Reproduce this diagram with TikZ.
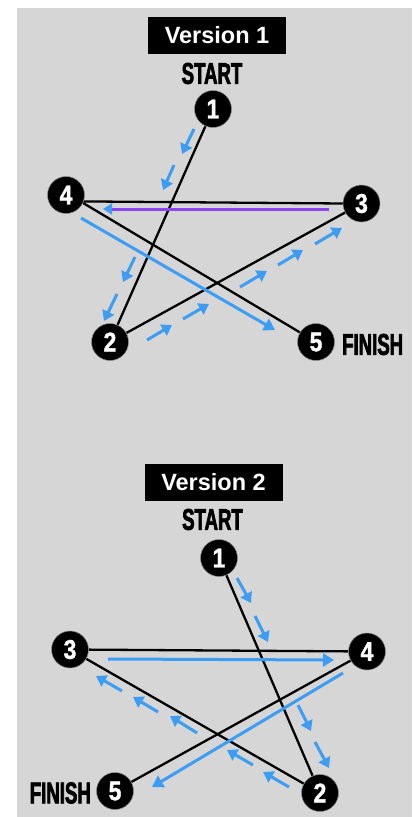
\documentclass[tikz,border=0pt]{standalone}
\usepackage{fontspec}
\setmainfont{Liberation Sans}
\newfontfamily\condfont[FakeStretch=0.62,FakeBold=2.2]{Liberation Sans}
\newfontfamily\digfont[FakeStretch=0.85,FakeBold=1.4]{Liberation Sans}
\usetikzlibrary{arrows.meta,backgrounds}
\definecolor{bggray}{RGB}{214,214,214}
\definecolor{arrblue}{RGB}{61,157,242}
\definecolor{arrpurple}{RGB}{139,69,245}
\tikzset{
  numnode/.style={circle, fill=black, draw=white!55!black, line width=0.5pt,
    minimum size=37pt, inner sep=0pt, text=white,
    font=\digfont\bfseries\fontsize{27}{27}\selectfont},
  blackline/.style={black, line width=2.3pt},
  dasharr/.style={arrblue, line width=3pt, -{Triangle[length=10pt,width=12.5pt]}},
  solidarr/.style={arrblue, line width=3pt, -{Triangle[length=11pt,width=13pt]}},
  titlebox/.style={fill=black, text=white, inner sep=0pt,
    minimum width=138pt, minimum height=37pt,
    font=\bfseries\fontsize{23.5}{23.5}\selectfont},
  lbltext/.style={inner sep=0pt, font=\condfont\bfseries\fontsize{30}{30}\selectfont}
}
\begin{document}
\begin{tikzpicture}[x=1pt,y=-1pt]
\useasboundingbox (0,0) rectangle (414,817);

% ---------- Version 1 ----------
\node[titlebox] (t1) at (217,35.5) {Version 1};
\node[lbltext] (s1) at (212,73.5) {START};
\node[numnode] (a1) at (213,109) {1};
\node[numnode] (a2) at (110,342) {2};
\node[numnode] (a3) at (361.5,203.5) {3};
\node[numnode] (a4) at (66,195) {4};
\node[numnode] (a5) at (316,342) {5};
\node[lbltext, anchor=west] (f1) at (342,344.5) {FINISH};

% ---------- Version 2 ----------
\node[titlebox] (t2) at (213.5,482) {Version 2};
\node[lbltext] (s2) at (212.5,519.5) {START};
\node[numnode] (b1) at (219,558) {1};
\node[numnode] (b2) at (320,793) {2};
\node[numnode] (b3) at (70,649.5) {3};
\node[numnode] (b4) at (367,651.5) {4};
\node[numnode] (b5) at (115,791) {5};
\node[lbltext, anchor=east] (f2) at (91,793) {FINISH};

\begin{scope}[on background layer]
  \fill[bggray] (17,8) rectangle (412,817);
  \draw[blackline] (a1) -- (a2);
  \draw[blackline] (a2) -- (a3);
  \draw[blackline] (a3.west) -- (a4.-20);
  \draw[blackline] (a4.-25) -- (a5);
  \draw[blackline] (b1) -- (b2);
  \draw[blackline] (b2) -- (b3);
  \draw[blackline] (b3) -- (b4);
  \draw[blackline] (b4) -- (b5);
\end{scope}

% blue path arrows, version 1
\draw[dasharr] (194,129) -- (182,154);
\draw[dasharr] (174,165) -- (163,190);
\draw[dasharr] (135,257) -- (123,282);
\draw[dasharr] (117,294) -- (104,321);
\draw[dasharr] (147,340) -- (172,325);
\draw[dasharr] (183,319) -- (209,304);
\draw[dasharr] (240,287) -- (267,271);
\draw[dasharr] (278,265) -- (303,250);
\draw[dasharr] (315,244) -- (342,228);
\draw[arrpurple, line width=3pt, -{Triangle[length=9pt,width=11pt,color=arrblue]}] (329,209) -- (103,209);
\draw[solidarr] (81,218) -- (275,330);

% blue path arrows, version 2
\draw[dasharr] (237,578) -- (251,603);
\draw[dasharr] (255,616) -- (268,642);
\draw[dasharr] (298,705) -- (311,731);
\draw[dasharr] (315,742) -- (329,768);
\draw[dasharr] (289,787) -- (263,772);
\draw[dasharr] (253,765) -- (227,750);
\draw[dasharr] (197,733) -- (170,716);
\draw[dasharr] (158,712) -- (133,697);
\draw[dasharr] (122,691) -- (96,676);
\draw[solidarr] (108,659) -- (334,660);
\draw[solidarr] (343,673) -- (152,787);
\end{tikzpicture}
\end{document}
